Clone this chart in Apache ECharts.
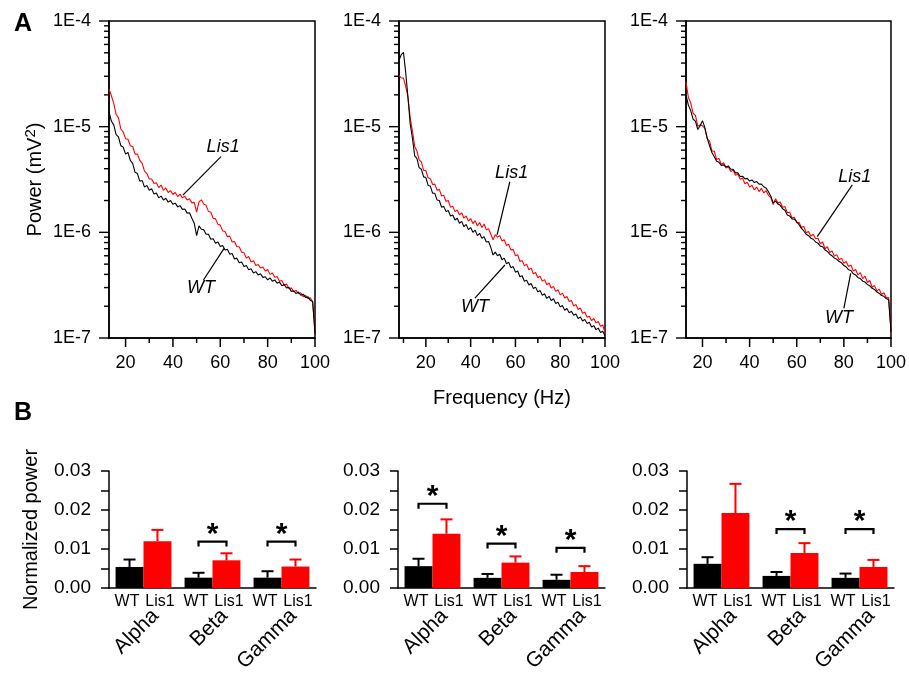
<!DOCTYPE html>
<html><head><meta charset="utf-8">
<script src="https://cdn.jsdelivr.net/npm/echarts@6/dist/echarts.min.js"></script>
<style>html,body{margin:0;padding:0;background:#fff}#c{width:909px;height:675px}</style>
</head><body><div id="c"></div>
<script>
// ---------- DATA ----------
const POWER_UNIT = 1e-7; // spectra values below are in units of 1E-7 mV^2

const freq13 = [13,14,15,16,17,18,19,20,21,22,23,24,25,26,27,28,29,30,31,32,33,34,35,36,37,38,39,40,41,42,43,44,45,46,47,48,49,50,51,52,53,54,55,56,57,58,59,60,61,62,63,64,65,66,67,68,69,70,71,72,73,74,75,76,77,78,79,80,81,82,83,84,85,86,87,88,89,90,91,92,93,94,95,96,97,98,99,100];
const freq8 = [8,9,10,11,12,13,14,15,16,17,18,19,20,21,22,23,24,25,26,27,28,29,30,31,32,33,34,35,36,37,38,39,40,41,42,43,44,45,46,47,48,49,50,51,52,53,54,55,56,57,58,59,60,61,62,63,64,65,66,67,68,69,70,71,72,73,74,75,76,77,78,79,80,81,82,83,84,85,86,87,88,89,90,91,92,93,94,95,96,97,98,99,100];

const p1Lis1 = [228,196,166,131,121,95,89,77,76,66,
 65,55,55,48,45,38,36,32,32,29,
 29.5,26.5,28,25,26.3,23.8,24.8,22.8,23.8,21.8,
 23,21.2,22,20.2,20.8,19,19.2,15.5,19.4,20.3,
 18.5,18,15.8,15.5,13.6,13.4,11.9,11.7,10.3,10.2,
 9.1,9.2,8.1,8.2,7.3,7.3,6.5,6.4,5.7,5.9,
 5.25,5.4,4.85,4.95,4.6,4.7,4.3,4.45,4.0,4.12,
 3.75,3.82,3.45,3.5,3.15,3.25,2.92,2.98,2.74,2.82,
 2.62,2.68,2.46,2.53,2.35,2.4,2.2,1.2];
const p1WT = [138,113,104,84,80,66,64,55,57,48,
 45,37,36,30.5,31,26.8,27.8,25,25.8,23,
 23.6,21.2,22,20.2,21,19.3,20,18.4,18.9,17.4,
 17.9,16.5,16.6,15.2,15.3,13.6,12.2,9.3,11.5,10.7,
 10.6,9.6,9.6,8.6,8.7,7.9,8.1,7.35,7.5,6.8,
 6.9,6.2,6.3,5.6,5.7,5.15,5.25,4.75,4.85,4.42,
 4.52,4.12,4.25,3.95,4.05,3.75,3.8,3.55,3.7,3.45,
 3.55,3.3,3.38,3.13,3.2,2.97,3.02,2.75,2.8,2.63,
 2.72,2.54,2.6,2.42,2.45,2.28,2.22,1.1];

const p2Lis1 = [305,290,288,240,190,
 122,91,65,59,48.5,46.5,38.5,38.5,32.8,32.2,
 28.4,28.6,25,25.5,22.1,22.4,19.6,20,17.3,17.7,
 15.7,16.3,14.6,15.3,13.6,14.3,12.8,13.5,12.1,12.9,
 11.5,12.4,11.1,12,10.6,10.8,9.6,8.5,9.5,9.0,
 9.3,8.3,8.5,7.5,7.7,6.8,6.9,6.0,6.15,5.3,
 5.4,4.82,5.0,4.43,4.58,4.05,4.17,3.72,3.85,3.45,
 3.57,3.19,3.32,2.97,3.08,2.76,2.86,2.56,2.66,2.39,
 2.47,2.22,2.26,2.01,2.08,1.86,1.92,1.71,1.76,1.57,
 1.61,1.46,1.53,1.39,1.43,1.29,1.33,1.12];
const p2WT = [425,480,505,325,190,
 106,78,53,50,41,39.5,33.5,33,27.8,27.4,
 23.5,23.4,20.2,20,17.3,17.6,15.7,16.1,14.3,14.6,
 13.1,13.6,12.2,12.7,11.3,11.9,10.6,11.1,10.0,10.5,
 9.3,9.8,8.8,9.1,8.1,8.2,7.2,6.1,6.5,6.0,
 6.2,5.5,5.7,5.05,5.2,4.62,4.74,4.2,4.3,3.8,
 3.88,3.44,3.53,3.17,3.28,2.94,3.03,2.73,2.82,2.54,
 2.62,2.37,2.48,2.26,2.35,2.12,2.18,1.97,2.03,1.83,
 1.9,1.73,1.79,1.64,1.69,1.53,1.58,1.45,1.5,1.37,
 1.41,1.27,1.31,1.2,1.24,1.13,1.16,1.05];

const p3Lis1 = [265,190,168,134,128,101,104,102,96,77,
 73,59,58.5,49,50,44,45.5,40.5,41.8,37.6,
 38.8,34.7,35.5,31.8,32.6,28.8,29.8,26.8,27.9,25.2,
 26.8,24.3,26.1,23.6,24.8,22.4,21.3,18.3,20.8,19,
 19.4,17.3,17.5,15.3,15.5,13.7,13.9,12.3,12.4,11.1,
 11.4,9.9,10.2,9.2,9.6,8.7,8.8,7.8,8.1,7.0,
 7.3,6.45,6.65,5.95,6.15,5.5,5.7,5.1,5.3,4.75,
 4.9,4.3,4.45,3.95,4.15,3.65,3.85,3.35,3.5,3.02,
 3.15,2.78,2.9,2.58,2.68,2.4,2.42,1.2];
const p3WT = [200,160,142,118,113,94,102,114,98,78,
 66,57,52,47,46,43,43.5,41.5,42.5,39.5,
 39.5,36.5,36.6,33.8,34,32,32.4,30.6,31.3,29.6,
 30.2,28.6,28.6,27,26.2,24.2,22,19,19.8,18.5,
 18,16.7,16.2,14.6,14.3,13.4,13.3,12.6,11.8,10.9,
 10.3,9.6,9.3,8.8,8.6,8.1,7.9,7.4,7.3,6.8,
 6.6,6.2,6.0,5.7,5.55,5.3,5.15,4.85,4.7,4.42,
 4.35,4.05,3.95,3.72,3.65,3.45,3.38,3.2,3.12,2.95,
 2.88,2.72,2.65,2.52,2.48,2.36,2.3,1.15];

const xTickLabels = [20,40,60,80,100];
const yDecades = [1e-7,1e-6,1e-5,1e-4];

const bandNames = ['Alpha','Beta','Gamma'];
const groupNames = ['WT','Lis1'];

const b1WT = [0.0054,0.00265,0.00265];
const b1WTsem = [0.0019,0.00125,0.00165];
const b1Lis1 = [0.0120,0.0071,0.0055];
const b1Lis1sem = [0.0029,0.0018,0.0018];
const b1Sig = [null,0.0119,0.0119];

const b2WT = [0.0056,0.0026,0.0021];
const b2WTsem = [0.0019,0.0010,0.0013];
const b2Lis1 = [0.0139,0.0065,0.0041];
const b2Lis1sem = [0.0037,0.0016,0.0015];
const b2Sig = [0.0216,0.0114,0.0103];

const b3WT = [0.0062,0.0031,0.0026];
const b3WTsem = [0.0017,0.0010,0.0011];
const b3Lis1 = [0.0192,0.0090,0.0054];
const b3Lis1sem = [0.0075,0.0025,0.0018];
const b3Sig = [null,0.0151,0.0151];

// ---------- CHART ----------
const FONT = '"Liberation Sans", Arial, Helvetica, sans-serif';
const RED = '#ff0000', BLACK = '#000000';

const topPanels = [
  {left:109, min:13, freq:freq13, lis:p1Lis1, wt:p1WT, minorX:[30,50,70,90],
   ann:{lisLine:[[60.3,5.2e-6],[44.2,2.25e-6]], wtLine:[[52.9,3.54e-7],[61.6,7.06e-7]], lisText:[61.2,6.43e-6], wtText:[51.9,2.97e-7]}},
  {left:399, min:8, freq:freq8, lis:p2Lis1, wt:p2WT, minorX:[10,30,50,70,90],
   ann:{lisLine:[[57.5,3.01e-6],[51.8,9.44e-7]], wtLine:[[41.9,2.38e-7],[55.3,4.91e-7]], lisText:[58.3,3.62e-6], wtText:[41.9,1.98e-7]}},
  {left:686, min:13, freq:freq13, lis:p3Lis1, wt:p3WT, minorX:[30,50,70,90],
   ann:{lisLine:[[83.6,2.81e-6],[68.7,9.1e-7]], wtLine:[[80.0,1.91e-7],[82.9,4.09e-7]], lisText:[84.6,3.37e-6], wtText:[77.9,1.53e-7]}}
];
const barPanels = [
  {left:109, wt:b1WT, wtSem:b1WTsem, lis:b1Lis1, lisSem:b1Lis1sem, sig:b1Sig},
  {left:398, wt:b2WT, wtSem:b2WTsem, lis:b2Lis1, lisSem:b2Lis1sem, sig:b2Sig},
  {left:687, wt:b3WT, wtSem:b3WTsem, lis:b3Lis1, lisSem:b3Lis1sem, sig:b3Sig}
];

// minor log ticks (2..9 x each decade)
const yMinorTicks = [];
[1e-7, 1e-6, 1e-5].forEach(d => { for (let k = 2; k <= 9; k++) yMinorTicks.push(k * d); });

const grid = [], xAxis = [], yAxis = [], series = [];
const axisLineStyle = {color: BLACK, width: 1.5};

// tick marks drawn through the axes' own scales (outside the plot box)
function makeTickRender(xmin) {
  return function (params, api) {
    const kind = api.value(0), v = api.value(1), len = api.value(2);
    if (kind === 0) {
      const p = api.coord([v, 1e-7]);
      return {type: 'line', shape: {x1: p[0], y1: p[1], x2: p[0], y2: p[1] + len}, style: {stroke: BLACK, lineWidth: 1.5}};
    }
    const p = api.coord([xmin, v]);
    return {type: 'line', shape: {x1: p[0], y1: p[1], x2: p[0] - len, y2: p[1]}, style: {stroke: BLACK, lineWidth: 1.4}};
  };
}

topPanels.forEach((p, i) => {
  grid.push({left: p.left, top: 21, width: 206, height: 317, show: true, borderColor: BLACK, borderWidth: 1.5, backgroundColor: 'transparent'});
  xAxis.push({gridIndex: i, type: 'value', position: 'bottom', min: p.min, max: 100,
    axisLine: {show: true, onZero: false, lineStyle: axisLineStyle},
    axisTick: {show: false},
    axisLabel: {customValues: xTickLabels, color: BLACK, fontSize: 18, margin: 16, fontFamily: FONT},
    splitLine: {show: false},
    name: i === 1 ? 'Frequency (Hz)' : '', nameLocation: 'middle', nameGap: 50,
    nameTextStyle: {fontSize: 20, color: BLACK, fontFamily: FONT}});
  yAxis.push({gridIndex: i, type: 'log', logBase: 10, min: 1e-7, max: 1e-4, position: 'left',
    axisLine: {show: true, onZero: false, lineStyle: axisLineStyle},
    axisTick: {show: false},
    axisLabel: {color: BLACK, fontSize: 18, margin: 18, fontFamily: FONT,
      formatter: v => '1E' + Math.round(Math.log10(v))},
    splitLine: {show: false}, minorSplitLine: {show: false},
    name: i === 0 ? '{a|Power (mV}{s|2}{a|)}' : '', nameLocation: 'middle', nameGap: 62,
    nameTextStyle: {color: BLACK, fontFamily: FONT, rich: {
      a: {fontSize: 20, color: BLACK, fontFamily: FONT},
      s: {fontSize: 15, color: BLACK, fontFamily: FONT, padding: [0, 0, 9, 0]}}}});

  const toPts = arr => arr.map((v, k) => [p.freq[k], v * POWER_UNIT]);
  series.push({type: 'line', xAxisIndex: i, yAxisIndex: i, data: toPts(p.lis),
    showSymbol: false, symbol: 'none', lineStyle: {color: RED, width: 1.1}, z: 2, animation: false, silent: true});
  const a = p.ann;
  series.push({type: 'line', xAxisIndex: i, yAxisIndex: i, data: toPts(p.wt),
    showSymbol: false, symbol: 'none', lineStyle: {color: BLACK, width: 1.1}, z: 3, animation: false, silent: true,
    markLine: {silent: true, symbol: 'none', animation: false, label: {show: false},
      lineStyle: {color: BLACK, width: 1.2, type: 'solid'},
      data: [[{coord: a.lisLine[0]}, {coord: a.lisLine[1]}], [{coord: a.wtLine[0]}, {coord: a.wtLine[1]}]]},
    markPoint: {silent: true, animation: false, symbol: 'circle', symbolSize: 1, itemStyle: {color: 'rgba(0,0,0,0)'},
      label: {show: true, position: 'inside', formatter: '{b}', fontStyle: 'italic', fontSize: 18, color: BLACK, fontFamily: FONT},
      data: [{name: groupNames[1], coord: a.lisText}, {name: groupNames[0], coord: a.wtText}]}});
  // ticks
  const tickRows = [];
  xTickLabels.forEach(v => tickRows.push([0, v, 9]));
  p.minorX.forEach(v => tickRows.push([0, v, 5]));
  yDecades.forEach(v => tickRows.push([1, v, 10]));
  yMinorTicks.forEach(v => tickRows.push([1, v, 5]));
  series.push({type: 'custom', xAxisIndex: i, yAxisIndex: i, renderItem: makeTickRender(p.min),
    data: tickRows, clip: false, z: 6, animation: false, silent: true});
});

const GAP = 0.19;
function errRender(params, api) {
  const cat = api.value(0), mean = api.value(1), sem = api.value(2), side = api.value(3);
  const c0 = api.coord([cat, mean]);
  const c1 = api.coord([cat, mean + sem]);
  const bw = api.size([1, 0])[0] * (1 - GAP) / 2;
  const x = c0[0] + (side === 0 ? -bw / 2 : bw / 2);
  const col = side === 0 ? BLACK : RED;
  const cap = 12;
  return {type: 'group', children: [
    {type: 'line', shape: {x1: x, y1: c0[1], x2: x, y2: c1[1]}, style: {stroke: col, lineWidth: 2}},
    {type: 'line', shape: {x1: x - cap / 2, y1: c1[1], x2: x + cap / 2, y2: c1[1]}, style: {stroke: col, lineWidth: 2}}
  ]};
}
function sigRender(params, api) {
  const cat = api.value(0), level = api.value(1);
  const c = api.coord([cat, level]);
  const bw = api.size([1, 0])[0] * (1 - GAP) / 2;
  const xL = c[0] - bw / 2, xR = c[0] + bw / 2, y = c[1];
  return {type: 'group', children: [
    {type: 'polyline', shape: {points: [[xL, y + 5], [xL, y], [xR, y], [xR, y + 5]]}, style: {stroke: BLACK, lineWidth: 2.2, fill: null}},
    {type: 'text', style: {text: '*', x: c[0], y: y - 22, align: 'center', verticalAlign: 'top', fontSize: 30, fontWeight: 'bold', fill: BLACK, fontFamily: FONT}}
  ]};
}

barPanels.forEach((p, j) => {
  const gi = 3 + j;
  grid.push({left: p.left, top: 471, width: 207, height: 117});
  const xi = xAxis.length, yi = yAxis.length;
  xAxis.push({gridIndex: gi, type: 'category', data: bandNames, position: 'bottom',
    axisLine: {show: true, lineStyle: axisLineStyle}, axisTick: {show: false},
    axisLabel: {interval: 0, margin: 6, color: BLACK, fontFamily: FONT,
      formatter: () => '{w|' + groupNames[0] + '}{l|' + groupNames[1] + '}',
      rich: {w: {width: 33, align: 'center', fontSize: 16, color: BLACK, fontFamily: FONT},
             l: {width: 33, align: 'center', fontSize: 16, color: BLACK, fontFamily: FONT}}}});
  yAxis.push({gridIndex: gi, type: 'value', min: 0, max: 0.03, interval: 0.01, position: 'left',
    axisLine: {show: true, lineStyle: axisLineStyle},
    axisTick: {show: true, length: 8, lineStyle: axisLineStyle},
    minorTick: {show: true, splitNumber: 2, length: 8, lineStyle: axisLineStyle},
    axisLabel: {color: BLACK, fontSize: 19, margin: 18, fontFamily: FONT, formatter: v => v.toFixed(2)},
    splitLine: {show: false}, minorSplitLine: {show: false},
    name: j === 0 ? 'Normalized power' : '', nameLocation: 'middle', nameGap: 68,
    nameTextStyle: {fontSize: 20, color: BLACK, fontFamily: FONT}});
  series.push({type: 'bar', xAxisIndex: xi, yAxisIndex: yi, data: p.wt, barGap: '0%', barCategoryGap: (GAP * 100) + '%',
    itemStyle: {color: BLACK}, animation: false, silent: true});
  series.push({type: 'bar', xAxisIndex: xi, yAxisIndex: yi, data: p.lis, barGap: '0%', barCategoryGap: (GAP * 100) + '%',
    itemStyle: {color: RED}, animation: false, silent: true});
  const errRows = [];
  p.wt.forEach((v, k) => errRows.push([k, v, p.wtSem[k], 0]));
  p.lis.forEach((v, k) => errRows.push([k, v, p.lisSem[k], 1]));
  series.push({type: 'custom', xAxisIndex: xi, yAxisIndex: yi, renderItem: errRender, data: errRows, z: 5, animation: false, silent: true});
  const sigRows = [];
  p.sig.forEach((v, k) => { if (v !== null) sigRows.push([k, v]); });
  series.push({type: 'custom', xAxisIndex: xi, yAxisIndex: yi, renderItem: sigRender, data: sigRows, z: 5, animation: false, silent: true});
});

// rotated band-name labels (own grids, shifted slightly right like the reference)
barPanels.forEach((p, j) => {
  const gi = 6 + j;
  grid.push({left: p.left + 12, top: 471, width: 207, height: 117});
  xAxis.push({gridIndex: gi, type: 'category', data: bandNames, position: 'bottom',
    axisLine: {show: false}, axisTick: {show: false},
    axisLabel: {interval: 0, rotate: 45, margin: 42, fontSize: 21, color: BLACK, fontFamily: FONT}});
  yAxis.push({gridIndex: gi, type: 'value', show: false, position: 'left'});
});

const option = {
  animation: false,
  backgroundColor: '#ffffff',
  textStyle: {fontFamily: FONT},
  grid, xAxis, yAxis, series,
  graphic: [
    {type: 'text', left: 14, top: 12, style: {text: 'A', fontSize: 25, fontWeight: 'bold', fill: BLACK, fontFamily: FONT}},
    {type: 'text', left: 14, top: 401, style: {text: 'B', fontSize: 25, fontWeight: 'bold', fill: BLACK, fontFamily: FONT}}
  ]
};
const chart = echarts.init(document.getElementById('c'));
chart.setOption(option);
</script></body></html>
